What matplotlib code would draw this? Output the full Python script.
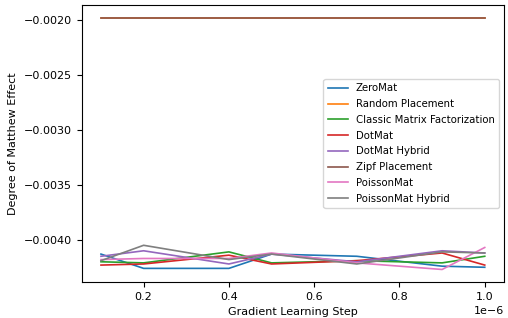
import matplotlib
matplotlib.use("Agg")
import matplotlib.pyplot as plt

# learning steps
steps = [1e-7, 2e-7, 4e-7, 5e-7, 7e-7, 9e-7, 1e-6]

zeromat = [-0.00413, -0.00426, -0.00426, -0.00413, -0.00415, -0.00424, -0.00425]
random_placement = [-0.00198, -0.00198, -0.00198, -0.00198, -0.00198, -0.00198, -0.00198]
classic_mf = [-0.00420, -0.00421, -0.00411, -0.00421, -0.00419, -0.00421, -0.00415]
dotmat = [-0.00423, -0.00422, -0.00414, -0.00422, -0.00419, -0.00412, -0.00423]
dotmat_hybrid = [-0.00415, -0.00410, -0.00422, -0.00413, -0.00420, -0.00410, -0.00412]
zipf_placement = [-0.00198, -0.00198, -0.00198, -0.00198, -0.00198, -0.00198, -0.00198]
poissonmat = [-0.00418, -0.00417, -0.00417, -0.00412, -0.00421, -0.00427, -0.00407]
poissonmat_hybrid = [-0.00419, -0.00405, -0.00418, -0.00413, -0.00422, -0.00411, -0.00412]

plt.rcParams['font.size'] = 8

fig = plt.figure(figsize=(5.08, 3.18), dpi=100)
ax = fig.add_subplot(111)
fig.subplots_adjust(left=0.161, right=0.992, top=0.984, bottom=0.113)

lw = 1.2
ax.plot(steps, zeromat, lw=lw, label='ZeroMat')
ax.plot(steps, random_placement, lw=lw, label='Random Placement')
ax.plot(steps, classic_mf, lw=lw, label='Classic Matrix Factorization')
ax.plot(steps, dotmat, lw=lw, label='DotMat')
ax.plot(steps, dotmat_hybrid, lw=lw, label='DotMat Hybrid')
ax.plot(steps, zipf_placement, lw=lw, label='Zipf Placement')
ax.plot(steps, poissonmat, lw=lw, label='PoissonMat')
ax.plot(steps, poissonmat_hybrid, lw=lw, label='PoissonMat Hybrid')

ax.set_xlabel('Gradient Learning Step')
ax.set_ylabel('Degree of Matthew Effect')
ax.legend(loc='center right', fontsize=7.3, labelspacing=0.57)

fig.savefig('out.png', dpi=100)
